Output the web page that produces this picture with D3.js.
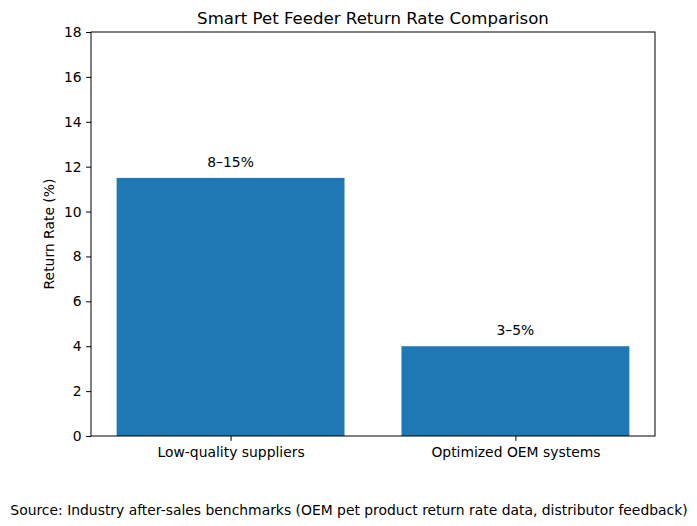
<!DOCTYPE html>
<html>
<head>
<meta charset="utf-8">
<script src="https://cdn.jsdelivr.net/npm/d3@7"></script>
<style>
  body { margin: 0; background: #fff; }
  svg text { font-family: "DejaVu Sans", sans-serif; fill: #000; }
</style>
</head>
<body>
<svg id="chart" width="697" height="526"></svg>
<script>
// data
const categories = ["Low-quality suppliers", "Optimized OEM systems"];
const values = [11.5, 4];
const labels = ["8–15%", "3–5%"];
const yTicks = [0, 2, 4, 6, 8, 10, 12, 14, 16, 18];

const W = 697, H = 526;
const m = { left: 91, right: 697 - 655, top: 32, bottom: 526 - 436 };
const iw = W - m.left - m.right, ih = H - m.top - m.bottom;
const fs = "13.9px";

const svg = d3.select("#chart");
const g = svg.append("g").attr("transform", `translate(${m.left},${m.top})`);

// matplotlib-like x: categories at 0,1, bar width 0.8, 5% margins
const x = d3.scaleLinear().domain([-0.49, 1.49]).range([0, iw]);
const y = d3.scaleLinear().domain([0, 18]).range([ih, 0]);

// bars
g.selectAll(".bar")
  .data(values)
  .join("rect")
  .attr("class", "bar")
  .attr("x", (d, i) => x(i - 0.4))
  .attr("width", x(0.4) - x(-0.4))
  .attr("y", d => y(d))
  .attr("height", d => y(0) - y(d))
  .attr("fill", "#1f77b4");

// value labels
g.selectAll(".val")
  .data(values)
  .join("text")
  .attr("class", "val")
  .attr("x", (d, i) => x(i))
  .attr("y", d => y(d) - 11)
  .attr("text-anchor", "middle")
  .style("font-size", fs)
  .text((d, i) => labels[i]);

// axes
const yAxis = g.append("g")
  .call(d3.axisLeft(y).tickValues(yTicks).tickSize(4.9).tickPadding(4.5));
const xAxis = g.append("g")
  .attr("transform", `translate(0,${ih})`)
  .call(d3.axisBottom(x).tickValues([0, 1]).tickFormat(i => categories[i]).tickSize(4.9).tickPadding(6.5));
[yAxis, xAxis].forEach(a => {
  a.select(".domain").remove();
  a.selectAll("line").attr("stroke", "#000").attr("stroke-width", 1);
  a.selectAll("text").style("font-size", fs).attr("font-family", "DejaVu Sans");
});

// frame
g.append("rect")
  .attr("width", iw).attr("height", ih)
  .attr("fill", "none").attr("stroke", "#000").attr("stroke-width", 1);

// title, axis label, source
svg.append("text")
  .attr("x", m.left + iw / 2).attr("y", 24)
  .attr("text-anchor", "middle")
  .style("font-size", "16.6px")
  .text("Smart Pet Feeder Return Rate Comparison");

svg.append("text")
  .attr("transform", `translate(54,${m.top + ih / 2}) rotate(-90)`)
  .attr("text-anchor", "middle")
  .style("font-size", fs)
  .text("Return Rate (%)");

svg.append("text")
  .attr("x", 349).attr("y", 515)
  .attr("text-anchor", "middle")
  .style("font-size", fs)
  .text("Source: Industry after-sales benchmarks (OEM pet product return rate data, distributor feedback)");
</script>
</body>
</html>
